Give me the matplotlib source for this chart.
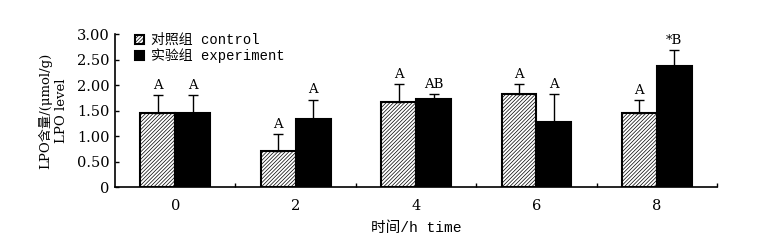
import numpy as np
import matplotlib.pyplot as plt

plt.rcParams['hatch.linewidth'] = 0.5

## Data
times    = ['0', '2', '4', '6', '8']
control  = [1.45, 0.72, 1.68, 1.82, 1.45]      # LPO, control group
ctrl_err = [0.35, 0.33, 0.35, 0.20, 0.26]
exper    = [1.45, 1.33, 1.74, 1.28, 2.37]      # LPO, experiment group
exp_err  = [0.35, 0.39, 0.08, 0.55, 0.32]
ctrl_lab = ['A', 'A', 'A', 'A', 'A']
exp_lab  = ['A', 'A', 'AB', 'A', '*B']

cjk_serif = ['DejaVu Serif', 'Noto Sans CJK SC']
cjk_mono  = ['Liberation Mono', 'Noto Sans CJK SC']

fig = plt.figure(figsize=(7.62, 2.47), dpi=100)
ax = fig.add_axes([0.151, 0.241, 0.790, 0.621])

x = np.arange(len(times))
w = 0.29

b1 = ax.bar(x - w/2, control, w, color='white', edgecolor='black', linewidth=1.5,
            hatch='/////////', label='对照组 control')
b2 = ax.bar(x + w/2, exper, w, color='black', edgecolor='black', linewidth=1.5,
            label='实验组 experiment')
ax.errorbar(x - w/2, control, yerr=[np.zeros(5), ctrl_err], fmt='none',
            ecolor='black', elinewidth=1, capsize=3.5, capthick=1)
ax.errorbar(x + w/2, exper, yerr=[np.zeros(5), exp_err], fmt='none',
            ecolor='black', elinewidth=1, capsize=3.5, capthick=1)

# significance letters
for i in range(len(times)):
    ax.text(x[i] - w/2, control[i] + ctrl_err[i] + 0.06, ctrl_lab[i], ha='center',
            va='bottom', fontsize=9.5, family='DejaVu Serif')
    ax.text(x[i] + w/2, exper[i] + exp_err[i] + 0.06, exp_lab[i], ha='center',
            va='bottom', fontsize=9.5, family='DejaVu Serif')

ax.set_xlim(-0.5, 4.5)
ax.set_ylim(0, 3.0)
ax.set_yticks(np.arange(0, 3.01, 0.5))
ax.set_yticklabels(['0'] + ['%.2f' % v for v in np.arange(0.5, 3.01, 0.5)],
                   family='DejaVu Serif', fontsize=10.5)
ax.set_xticks(x)
ax.set_xticklabels(times, family='DejaVu Serif', fontsize=10.5)
ax.tick_params(axis='x', length=0, pad=8)
ax.set_xticks(np.arange(0.5, 4.6, 1.0), minor=True)
ax.tick_params(axis='x', which='minor', direction='in', length=3, width=1)
ax.tick_params(axis='y', direction='in', length=3, width=1, pad=4)

for s in ['top', 'right']:
    ax.spines[s].set_visible(False)
for s in ['left', 'bottom']:
    ax.spines[s].set_linewidth(1.2)

ax.set_xlabel('时间/h time', family=cjk_mono, fontsize=10.5, labelpad=6)
ax.set_ylabel('LPO含量/(μmol/g)\nLPO level', family=cjk_serif, fontsize=9.5,
              linespacing=1.35, labelpad=6)

leg = ax.legend(loc='upper left', bbox_to_anchor=(0.02, 1.06), frameon=False,
                prop={'family': cjk_mono, 'size': 10}, handlelength=0.6,
                handleheight=0.6, handletextpad=0.5, labelspacing=0.1,
                borderaxespad=0.2)

plt.savefig('out.png', dpi=100)
